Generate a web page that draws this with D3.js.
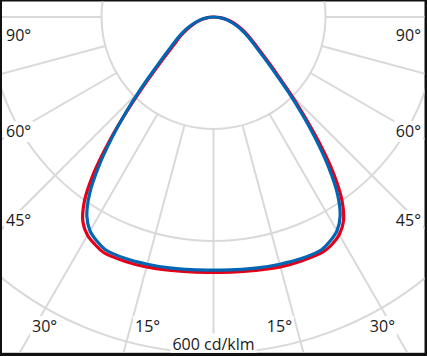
<!DOCTYPE html>
<html><head><meta charset="utf-8">
<script src="https://cdn.jsdelivr.net/npm/d3@7"></script>
<style>html,body{margin:0;padding:0;background:#fff;overflow:hidden}</style>
</head><body>
<script>
// ---- data (cd/klm) ----
const gammas     = [0, 5, 10, 15, 20, 25, 27.5, 30, 32.5, 35, 37.5, 40, 42.5, 45, 47.5, 50, 55, 60, 65, 70, 75, 80, 85, 90];
const blueValues = [452, 453, 455, 457, 459, 458, 451, 441, 421, 386, 337, 283, 232, 188, 152, 126, 92, 72, 56, 42, 30, 19, 9.5, 0];
const redRight   = [456, 457, 459, 462, 463, 463, 458, 449, 432, 400, 352, 295, 240, 195, 158, 132, 97, 76, 60, 46, 34, 23, 12, 0];
const redLeft    = [456, 457, 459, 462, 464, 464, 458, 450, 434, 402, 351, 289, 230, 182, 145, 119, 86, 68, 52, 38, 27, 16, 8, 0];
const rings      = [200, 400, 600];
const spokes     = [-90, -75, -60, -45, -30, -15, 0, 15, 30, 45, 60, 75, 90];
const angleLabels = ["90°", "60°", "45°", "30°", "15°"];
const unitLabel  = "600 cd/klm";

// ---- layout ----
const W = 427, H = 356, cx = 213.5, cy = 17;
const labelLayout = [ {x: 6, y: 41}, {x: 6, y: 137}, {x: 6, y: 226}, {x: 32, y: 332}, {x: 135, y: 332} ];
const frame = {x: 2, y: 1.5, w: 422.5, h: 351.3};
const gridColor = "#d9d9d9", blueColor = "#0066b3", redColor = "#e2001a";
const font = "'Open Sans', sans-serif", fontSize = 16;

const r = d3.scaleLinear().domain([0, 600]).range([0, 336]);
const ang = s => Math.PI - s * Math.PI / 180; // negative s = left side

const svg = d3.select("body").append("svg").attr("width", W).attr("height", H);
svg.append("rect").attr("width", W).attr("height", H).attr("fill", "#111");
svg.append("defs").append("clipPath").attr("id", "clip").append("rect")
  .attr("x", frame.x).attr("y", frame.y).attr("width", frame.w).attr("height", frame.h);
svg.append("rect").attr("x", frame.x).attr("y", frame.y).attr("width", frame.w).attr("height", frame.h).attr("fill", "#fff");

const g = svg.append("g").attr("clip-path", "url(#clip)");
const plot = g.append("g").attr("transform", `translate(${cx},${cy})`);

plot.selectAll("circle.ring").data(rings).join("circle").attr("class", "ring")
  .attr("r", d => r(d)).attr("fill", "none").attr("stroke", gridColor).attr("stroke-width", 2);

plot.selectAll("line.spoke").data(spokes).join("line").attr("class", "spoke")
  .attr("x1", d => r(rings[0]) * Math.sin(ang(d))).attr("y1", d => -r(rings[0]) * Math.cos(ang(d)))
  .attr("x2", d => r(1400) * Math.sin(ang(d))).attr("y2", d => -r(1400) * Math.cos(ang(d)))
  .attr("stroke", gridColor).attr("stroke-width", 2);

function loop(left, right) {
  const pts = [];
  for (let i = gammas.length - 1; i >= 0; i--) pts.push([ang(-gammas[i]), r(left[i])]);
  for (let i = 1; i < gammas.length - 1; i++) pts.push([ang(gammas[i]), r(right[i])]);
  return pts;
}
const line = d3.lineRadial().angle(d => d[0]).radius(d => d[1]).curve(d3.curveCatmullRomClosed.alpha(0.5));

plot.append("path").attr("d", line(loop(redLeft, redRight)))
  .attr("fill", "none").attr("stroke", redColor).attr("stroke-width", 3.2).attr("stroke-linejoin", "round");
plot.append("path").attr("d", line(loop(blueValues, blueValues)))
  .attr("fill", "none").attr("stroke", blueColor).attr("stroke-width", 3.2).attr("stroke-linejoin", "round");

// ---- labels ----
const lab = g.append("g");
function addLabel(text, x, y, anchor) {
  const grp = lab.append("g");
  const t = grp.append("text").attr("x", x).attr("y", y).attr("text-anchor", anchor)
    .attr("font-family", font).attr("font-size", fontSize).attr("fill", "#1a1a1a").text(text);
  const b = t.node().getBBox();
  grp.insert("rect", "text").attr("x", b.x - 2).attr("y", b.y + 1).attr("width", b.width + 4).attr("height", b.height - 1).attr("fill", "#fff");
}
angleLabels.forEach((t, i) => {
  const L = labelLayout[i];
  addLabel(t, L.x, L.y, "start");
  addLabel(t, 2 * cx - L.x, L.y, "end");
});
addLabel(unitLabel, cx, 349.5, "middle");
</script>
</body></html>
